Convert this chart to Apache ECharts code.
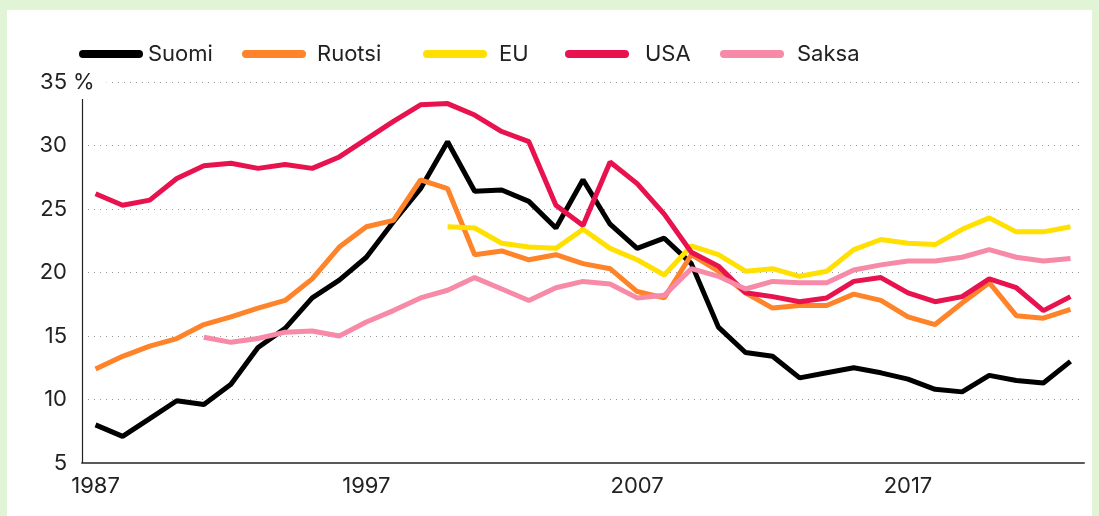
<!DOCTYPE html>
<html>
<head>
<meta charset="utf-8">
<script src="https://cdn.jsdelivr.net/npm/echarts@6/dist/echarts.min.js"></script>
<style>
  html, body { margin: 0; padding: 0; background: #e2f4d6; }
  #panel { position: absolute; left: 7px; top: 10px; right: 7px; bottom: 0; background: #ffffff; }
  #chart { position: absolute; left: 0; top: 0; width: 1099px; height: 516px; }
</style>
</head>
<body>
<div id="panel"></div>
<div id="chart"></div>
<script>
// Years 1987..2023
const years = ['1987','1988','1989','1990','1991','1992','1993','1994','1995','1996',
  '1997','1998','1999','2000','2001','2002','2003','2004','2005','2006',
  '2007','2008','2009','2010','2011','2012','2013','2014','2015','2016',
  '2017','2018','2019','2020','2021','2022','2023'];

const suomi = [8.0, 7.1, 8.5, 9.9, 9.6, 11.2, 14.1, 15.6, 18.0, 19.4,
  21.2, 24.0, 26.6, 30.3, 26.4, 26.5, 25.6, 23.5, 27.3, 23.8,
  21.9, 22.7, 20.7, 15.7, 13.7, 13.4, 11.7, 12.1, 12.5, 12.1,
  11.6, 10.8, 10.6, 11.9, 11.5, 11.3, 13.0];

const ruotsi = [12.4, 13.4, 14.2, 14.8, 15.9, 16.5, 17.2, 17.8, 19.5, 22.0,
  23.6, 24.1, 27.3, 26.6, 21.4, 21.7, 21.0, 21.4, 20.7, 20.3,
  18.5, 18.0, 21.4, 20.1, 18.4, 17.2, 17.4, 17.4, 18.3, 17.8,
  16.5, 15.9, 17.6, 19.2, 16.6, 16.4, 17.1];

const eu = [null, null, null, null, null, null, null, null, null, null,
  null, null, null, 23.6, 23.5, 22.3, 22.0, 21.9, 23.4, 21.9,
  21.0, 19.8, 22.1, 21.4, 20.1, 20.3, 19.7, 20.1, 21.8, 22.6,
  22.3, 22.2, 23.4, 24.3, 23.2, 23.2, 23.6];

const usa = [26.2, 25.3, 25.7, 27.4, 28.4, 28.6, 28.2, 28.5, 28.2, 29.1,
  30.5, 31.9, 33.2, 33.3, 32.4, 31.1, 30.3, 25.3, 23.7, 28.7,
  27.0, 24.6, 21.6, 20.5, 18.4, 18.1, 17.7, 18.0, 19.3, 19.6,
  18.4, 17.7, 18.1, 19.5, 18.8, 17.0, 18.1];

const saksa = [null, null, null, null, 14.9, 14.5, 14.8, 15.3, 15.4, 15.0,
  16.1, 17.0, 18.0, 18.6, 19.6, 18.7, 17.8, 18.8, 19.3, 19.1,
  18.0, 18.2, 20.3, 19.7, 18.7, 19.3, 19.2, 19.2, 20.2, 20.6,
  20.9, 20.9, 21.2, 21.8, 21.2, 20.9, 21.1];

const yTicks = [5, 10, 15, 20, 25, 30, 35];

const seriesDefs = [
  { name: 'Suomi', data: suomi, color: '#000000' },
  { name: 'Ruotsi', data: ruotsi, color: '#ff8329' },
  { name: 'EU', data: eu, color: '#ffe000' },
  { name: 'USA', data: usa, color: '#e8124e' },
  { name: 'Saksa', data: saksa, color: '#f68aa7' }
];

const FONT = 'Inter, "Noto Sans", sans-serif';
const legendLeft = [79, 242, 423, 565, 720];
const legendPad = [0, 6, 7, 11, 8];
const capsule = 'path://M4,0H60A4,4,0,0,1,60,8H4A4,4,0,0,1,4,0Z';

const chart = echarts.init(document.getElementById('chart'), null, { renderer: 'canvas' });

const option = {
  animation: false,
  backgroundColor: 'transparent',
  grid: { left: 82, right: 15, top: 82, bottom: 53, containLabel: false },
  legend: seriesDefs.map((s, i) => ({
    data: [s.name],
    left: legendLeft[i],
    top: 43,
    padding: 0,
    icon: capsule,
    itemWidth: 64,
    itemHeight: 8,
    selectedMode: false,
    textStyle: { fontFamily: FONT, fontSize: 22, color: '#222', padding: [0, 0, 0, legendPad[i]] }
  })),
  xAxis: {
    type: 'category',
    data: years,
    boundaryGap: true,
    axisLine: { show: true, lineStyle: { color: '#5a5a5a', width: 2 } },
    axisTick: { show: false },
    axisLabel: { interval: 9, fontFamily: FONT, fontSize: 22, color: '#222', margin: 12 },
    splitLine: { show: false }
  },
  yAxis: {
    type: 'value',
    min: 5,
    max: 35,
    interval: 5,
    axisLine: { show: false },
    axisTick: { show: false },
    axisLabel: { fontFamily: FONT, fontSize: 22, color: '#222', margin: 15,
      formatter: v => yTicks.indexOf(v) >= 0 ? String(v) : '' },
    splitLine: { show: true, lineStyle: { color: '#9a9a9a', width: 1, type: [1, 5] } }
  },
  series: seriesDefs.map(s => ({
    name: s.name,
    type: 'line',
    data: s.data,
    color: s.color,
    showSymbol: false,
    symbol: 'none',
    connectNulls: false,
    lineStyle: { width: 5, color: s.color },
    emphasis: { disabled: true }
  }))
};

chart.setOption(option);

// Decorations: y axis line (starts a little below the top gridline) and the "%" unit label
const yTop = chart.convertToPixel({ yAxisIndex: 0 }, 35);
const yBot = chart.convertToPixel({ yAxisIndex: 0 }, 5);
chart.setOption({
  graphic: [
    { type: 'line', shape: { x1: 82.5, y1: yTop + 17, x2: 82.5, y2: yBot }, style: { stroke: '#222', lineWidth: 1.2 }, z: 10 },
    { type: 'text', x: 72, y: yTop, style: { text: '%', font: '22px ' + FONT, fill: '#222', verticalAlign: 'middle', align: 'left',
        backgroundColor: '#ffffff', padding: [2, 12, 2, 1] }, z: 10 }
  ]
});
</script>
</body>
</html>
